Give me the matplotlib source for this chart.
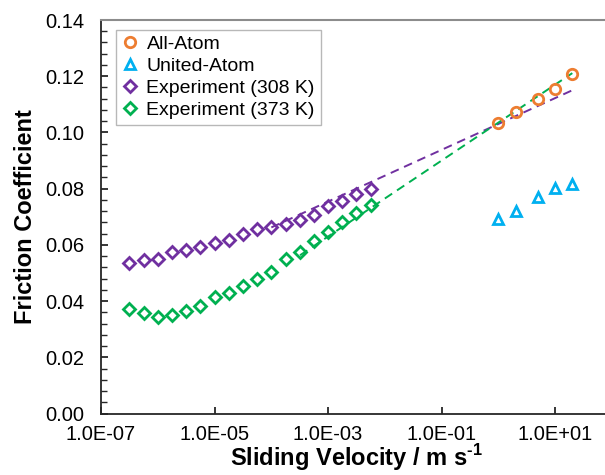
import matplotlib
matplotlib.use("Agg")
import matplotlib.pyplot as plt
from matplotlib.ticker import FixedLocator, MultipleLocator, FuncFormatter

plt.rcParams['font.family'] = ['Liberation Sans', 'DejaVu Sans']
plt.rcParams['mathtext.fontset'] = 'custom'
plt.rcParams['mathtext.rm'] = 'Liberation Sans:bold'
plt.rcParams['mathtext.bf'] = 'Liberation Sans:bold'

# experiment velocities (m/s)
exp_v = [3.16e-7, 5.62e-7, 1.0e-6, 1.78e-6, 3.16e-6, 5.62e-6, 1.0e-5, 1.78e-5, 3.16e-5,
         5.62e-5, 1.0e-4, 1.78e-4, 3.16e-4, 5.62e-4, 1.0e-3, 1.78e-3, 3.16e-3, 5.62e-3]
exp_308 = [0.0535, 0.0547, 0.0549, 0.0576, 0.0581, 0.0592, 0.0606, 0.0618, 0.0639,
           0.0658, 0.0665, 0.0675, 0.0689, 0.0706, 0.0739, 0.0756, 0.0781, 0.0798]
exp_373 = [0.0371, 0.0357, 0.0344, 0.0352, 0.0364, 0.0381, 0.0415, 0.0428, 0.0452,
           0.0478, 0.0503, 0.0549, 0.0574, 0.0612, 0.0645, 0.0681, 0.0713, 0.0742]

# simulations
sim_v = [1, 2, 5, 10, 20]
all_atom = [0.1033, 0.1073, 0.1120, 0.1156, 0.1208]
united_atom = [0.0691, 0.0722, 0.0772, 0.0802, 0.0817]

# log trendlines (end points)
trend_308_v = [1.0e-4, 20]
trend_308 = [0.0662, 0.1150]
trend_373_v = [3.2e-4, 20]
trend_373 = [0.0563, 0.1211]

orange = '#ED7D31'
blue = '#00B0F0'
purple = '#7030A0'
green = '#00B050'

fig = plt.figure(figsize=(6.05, 4.75), dpi=100)
ax = fig.add_axes([101 / 605, 61.5 / 475, 511 / 605, 393.5 / 475])

ax.plot(trend_308_v, trend_308, ls=(0, (4.5, 3)), color=purple, lw=1.4, zorder=2)
ax.plot(trend_373_v, trend_373, ls=(0, (4.5, 3)), color=green, lw=1.4, zorder=2)

mk = dict(ls='none', markerfacecolor='none', markeredgewidth=2.0, zorder=3)
ax.plot(sim_v, all_atom, marker='o', ms=7.5, color=orange, label='All-Atom', **mk)
ax.plot(sim_v, united_atom, marker='^', ms=7.5, color=blue, label='United-Atom', **mk)
ax.plot(exp_v, exp_308, marker='D', ms=6, color=purple, label='Experiment (308 K)', **mk)
ax.plot(exp_v, exp_373, marker='D', ms=6, color=green, label='Experiment (373 K)', **mk)

ax.set_xscale('log')
ax.set_xlim(1e-7, 1e2)
ax.set_ylim(0, 0.14)
ax.xaxis.set_major_locator(FixedLocator([1e-7, 1e-5, 1e-3, 1e-1, 1e1]))
ax.xaxis.set_minor_locator(FixedLocator([]))
ax.xaxis.set_major_formatter(FuncFormatter(lambda v, p: '%.1E' % v))
ax.yaxis.set_major_locator(MultipleLocator(0.02))
ax.yaxis.set_minor_locator(MultipleLocator(0.004))
ax.yaxis.set_major_formatter(FuncFormatter(lambda v, p: '%.2f' % v))

ax.tick_params(axis='both', which='major', direction='in', length=5, width=1.3,
               labelsize=14.5, color='#262626')
ax.tick_params(axis='y', which='minor', direction='in', length=4, width=1.0, color='#262626')
ax.tick_params(axis='x', pad=8)
ax.tick_params(axis='y', pad=12)

for s in ['left', 'bottom']:
    ax.spines[s].set_color('#262626')
    ax.spines[s].set_linewidth(1.3)
ax.spines['top'].set_color('#8c8c8c')
ax.spines['top'].set_linewidth(1.5)
ax.spines['right'].set_visible(False)

ax.set_xlabel(r'Sliding Velocity / m s$^{\text{-1}}$', fontsize=17, fontweight='bold', labelpad=-1)
ax.set_ylabel('Friction Coefficient', fontsize=17, fontweight='bold', labelpad=6)

leg = ax.legend(loc='upper left', bbox_to_anchor=(0.03, 0.975), fontsize=14,
                frameon=True, fancybox=False, edgecolor='#a6a6a6', handlelength=0.8,
                handletextpad=0.45, labelspacing=0.22, borderpad=0.3, borderaxespad=0)
leg.get_frame().set_linewidth(1.0)

fig.savefig('out.png', dpi=100)
